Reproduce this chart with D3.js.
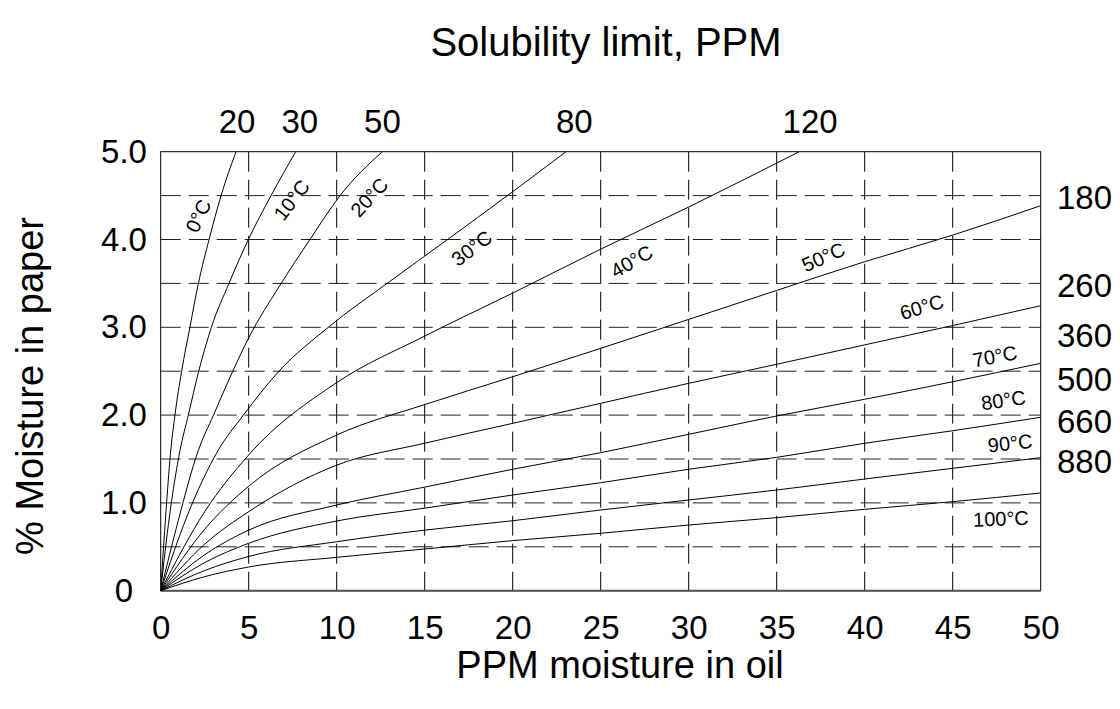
<!DOCTYPE html>
<html>
<head>
<meta charset="utf-8">
<script src="https://cdn.jsdelivr.net/npm/d3@7"></script>
<style>
  html, body { margin: 0; padding: 0; background: #fff; }
  svg { display: block; font-family: "Liberation Sans", Arial, sans-serif; }
</style>
</head>
<body>
<svg id="chart" width="1120" height="709"></svg>
<script>
// ---- data ----
const temperatures = ["0°C","10°C","20°C","30°C","40°C","50°C","60°C","70°C","80°C","90°C","100°C"];

const c0   = [[0,0],[0.3,0.9],[0.55,1.55],[0.81,2.0],[1.19,2.5],[1.66,3.0],[2.14,3.5],[2.75,4.0],[3.43,4.5],[4.28,5.0]];
const c10  = [[0,0],[0.5,0.85],[1.1,1.6],[1.57,2.0],[2.16,2.5],[2.88,3.0],[3.88,3.5],[4.98,4.0],[6.27,4.5],[7.67,5.0]];
const c20  = [[0,0],[1.0,0.8],[2.14,1.6],[3.0,2.0],[4.05,2.48],[5.0,2.88],[6.75,3.47],[8.48,4.0],[10.19,4.5],[12.59,5.0]];
const c30  = [[0,0],[1.5,0.85],[3.27,1.6],[4.7,2.0],[6.72,2.5],[9.52,3.0],[13.0,3.52],[16.3,4.0],[19.7,4.5],[23.03,5.0]];
const c40  = [[0,0],[2.5,0.9],[5,1.546],[10,2.37],[15,2.9],[20,3.39],[25,3.89],[30,4.37],[36.28,5.0]];
const c50  = [[0,0],[2.5,0.7],[5,1.19],[10,1.773],[15,2.12],[20,2.437],[25,2.76],[30,3.09],[35,3.42],[40,3.747],[45,4.05],[50,4.385]];
const c60  = [[0,0],[2.5,0.53],[5,0.9],[10,1.43],[15,1.68],[20,1.906],[25,2.134],[30,2.362],[35,2.579],[40,2.80],[45,3.02],[50,3.246]];
const c70  = [[0,0],[2.5,0.41],[5,0.69],[10,0.976],[15,1.18],[20,1.383],[25,1.572],[30,1.781],[35,1.99],[40,2.18],[45,2.38],[50,2.59]];
const c80  = [[0,0],[2.5,0.32],[5,0.54],[10,0.794],[15,0.94],[20,1.09],[25,1.23],[30,1.383],[35,1.519],[40,1.679],[45,1.822],[50,1.975]];
const c90  = [[0,0],[2.5,0.23],[5,0.39],[10,0.558],[15,0.69],[20,0.797],[25,0.919],[30,1.033],[35,1.147],[40,1.272],[45,1.394],[50,1.515]];
const c100 = [[0,0],[2.5,0.16],[5,0.27],[10,0.38],[15,0.475],[20,0.57],[25,0.654],[30,0.748],[35,0.832],[40,0.927],[45,1.014],[50,1.113]];
const curves = [c0,c10,c20,c30,c40,c50,c60,c70,c80,c90,c100];

// curve label anchors (data space) and angles
const labelAt = [[2.14,4.27],[7.44,4.45],[11.85,4.48],[17.67,3.90],[26.76,3.75],[37.65,3.80],[43.24,3.23],[47.40,2.67],[47.88,2.17],[48.26,1.68],[47.74,0.82]];
const labelAngle = [-65,-52,-47,-37,-30,-24,-17,-11,-8,-6,-2];

const xTicks = [0,5,10,15,20,25,30,35,40,45,50];
const yTicks = [0,1,2,3,4,5];
const yTickLabels = ["0","1.0","2.0","3.0","4.0","5.0"];
const xGrid = [5,10,15,20,25,30,35,40,45];
const yGrid = [0.5,1,1.5,2,2.5,3,3.5,4,4.5];

// solubility limit labels
const topLimits = ["20","30","50","80","120"];
const topLimitAt = [4.34,7.9,12.6,23.5,36.9];
const rightLimits = ["180","260","360","500","660","880"];
const rightLimitAt = [4.48,3.48,2.91,2.40,1.93,1.47];

// ---- layout ----
const svg = d3.select("#chart");
const L = 160.7, R = 1040.7, T = 151.7, B = 590.7;
const x = d3.scaleLinear().domain([0,50]).range([L,R]);
const y = d3.scaleLinear().domain([0,5]).range([B,T]);

svg.append("defs").append("clipPath").attr("id","plotclip")
  .append("rect").attr("x",L).attr("y",T).attr("width",R-L).attr("height",B-T);

// grid
const g = svg.append("g");
g.selectAll(".vg").data(xGrid).join("line")
  .attr("x1",d=>x(d)).attr("x2",d=>x(d)).attr("y1",T).attr("y2",B)
  .attr("stroke","#000").attr("stroke-width",1).attr("stroke-dasharray","20,8");
g.selectAll(".hg").data(yGrid).join("line")
  .attr("x1",L).attr("x2",R).attr("y1",d=>y(d)).attr("y2",d=>y(d))
  .attr("stroke","#222").attr("stroke-width",1).attr("stroke-dasharray","20,8");

// frame
svg.append("rect").attr("x",L).attr("y",T).attr("width",R-L).attr("height",B-T)
  .attr("fill","none").attr("stroke","#000").attr("stroke-width",1);
svg.append("line").attr("x1",L).attr("x2",R).attr("y1",B).attr("y2",B)
  .attr("stroke","#555").attr("stroke-width",2);

// curves
const line = d3.line().x(d=>x(d[0])).y(d=>y(d[1])).curve(d3.curveMonotoneX);
svg.append("g").attr("clip-path","url(#plotclip)")
  .selectAll("path").data(curves).join("path")
  .attr("d",line).attr("fill","none").attr("stroke","#000").attr("stroke-width",1);

// curve labels
svg.append("g").selectAll("text").data(temperatures).join("text")
  .attr("transform",(d,i)=>`translate(${x(labelAt[i][0])},${y(labelAt[i][1])}) rotate(${labelAngle[i]})`)
  .attr("text-anchor","middle").attr("dominant-baseline","central")
  .attr("font-size",20).attr("fill","#000").text(d=>d);

// axes
const xAxis = d3.axisBottom(x).tickValues(xTicks).tickSize(0).tickPadding(25).tickFormat(d3.format("d"));
const gx = svg.append("g").attr("transform",`translate(0,${B})`).call(xAxis);
gx.select(".domain").remove();
gx.selectAll("text").attr("font-size",33).attr("font-family","Liberation Sans, Arial, sans-serif").attr("fill","#000");

const yAxis = d3.axisLeft(y).tickValues(yTicks).tickSize(0).tickFormat((d,i)=>yTickLabels[i]);
const gy = svg.append("g").attr("transform",`translate(124,0)`).call(yAxis);
gy.select(".domain").remove();
gy.selectAll("text").attr("text-anchor","middle").attr("x",0).attr("font-size",33)
  .attr("font-family","Liberation Sans, Arial, sans-serif").attr("fill","#000");

// solubility limit labels
svg.append("g").selectAll("text").data(topLimits).join("text")
  .attr("x",(d,i)=>x(topLimitAt[i])).attr("y",133)
  .attr("text-anchor","middle").attr("font-size",33).text(d=>d);
svg.append("g").selectAll("text").data(rightLimits).join("text")
  .attr("x",1057).attr("y",(d,i)=>y(rightLimitAt[i]))
  .attr("dominant-baseline","central")
  .attr("text-anchor","start").attr("font-size",33).text(d=>d);

// titles
svg.append("text").attr("x",606).attr("y",56).attr("text-anchor","middle")
  .attr("font-size",40).text("Solubility limit, PPM");
svg.append("text").attr("x",620).attr("y",678).attr("text-anchor","middle")
  .attr("font-size",38).text("PPM moisture in oil");
svg.append("text").attr("transform","translate(43,386) rotate(-90)").attr("text-anchor","middle")
  .attr("font-size",38).text("% Moisture in paper");
</script>
</body>
</html>
